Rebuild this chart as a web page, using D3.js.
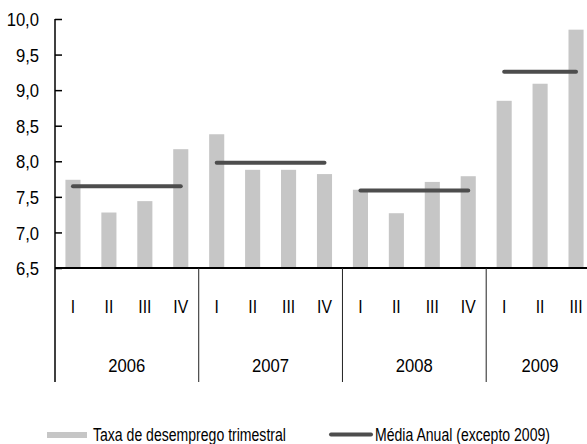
<!DOCTYPE html>
<html>
<head>
<meta charset="utf-8">
<script src="https://cdn.jsdelivr.net/npm/d3@7"></script>
<style>
  body { margin: 0; background: #fff; }
  svg { display: block; }
  text { font-family: "Liberation Sans", Arial, sans-serif; fill: #000; }
</style>
</head>
<body>
<div class="chart"></div>
<script>
//////////////
// Data
//////////////

var years = ['2006', '2007', '2008', '2009']
var quarters = ['I', 'II', 'III', 'IV']
// quarterly unemployment rate, per year
var rate2006 = [7.74, 7.28, 7.44, 8.17]
var rate2007 = [8.38, 7.88, 7.88, 7.82]
var rate2008 = [7.60, 7.27, 7.71, 7.79]
var rate2009 = [8.85, 9.09, 9.85]
// annual average line per year
var average = [7.65, 7.98, 7.59, 9.26]
var yTicks = [6.5, 7.0, 7.5, 8.0, 8.5, 9.0, 9.5, 10.0]

var legendLabels = ['Taxa de desemprego trimestral', 'Média Anual (excepto 2009)']

// flat list of quarters
var rates = [rate2006, rate2007, rate2008, rate2009]
var data = []
rates.forEach(function(r, i) {
  r.forEach(function(v, j) {
    data.push({key: years[i] + '-' + quarters[j], year: years[i], q: quarters[j], value: v})
  })
})

//////////////
// Chart
//////////////

var w = 587, h = 444
var mLeft = 55, mTop = 19, mBottom = 268
var mRight = 594   // last category is cropped by the page edge
var fs = 18.5      // font looks like a narrow arial, so squeeze horizontally

var svg = d3.select('div.chart')
  .append('svg')
  .attr('width', w)
  .attr('height', h)

var x = d3.scaleBand()
  .domain(data.map(d => d.key))
  .range([mLeft, mRight])
  .paddingInner(0.58)
  .paddingOuter(0.29)

var y = d3.scaleLinear()
  .domain([6.5, 10])
  .range([mBottom, mTop])

// squeezed text helper
function label(sel, px, py, sx, anchor, txt) {
  return sel.append('text')
    .attr('transform', 'translate(' + px + ',' + py + ') scale(' + sx + ',1)')
    .attr('text-anchor', anchor)
    .attr('font-size', fs + 'px')
    .text(txt)
}

// bars
svg.selectAll('rect.bar')
  .data(data)
  .enter()
  .append('rect')
  .attr('class', 'bar')
  .attr('x', d => x(d.key))
  .attr('width', x.bandwidth())
  .attr('y', d => y(d.value))
  .attr('height', d => y(6.5) - y(d.value))
  .attr('fill', '#c6c6c6')

// annual average lines
var avgData = years.map(function(yr, i) {
  var ds = data.filter(d => d.year === yr)
  return {
    x1: x(ds[0].key) + x.bandwidth() / 2,
    x2: x(ds[ds.length - 1].key) + x.bandwidth() / 2,
    value: average[i]
  }
})

svg.selectAll('line.avg')
  .data(avgData)
  .enter()
  .append('line')
  .attr('class', 'avg')
  .attr('x1', d => d.x1)
  .attr('x2', d => d.x2)
  .attr('y1', d => y(d.value))
  .attr('y2', d => y(d.value))
  .attr('stroke', '#4d4d4d')
  .attr('stroke-width', 4)
  .attr('stroke-linecap', 'round')

// y axis
var yAxis = d3.axisRight(y)
  .tickValues(yTicks)
  .tickSize(7)
  .tickFormat(d => d3.format('.1f')(d).replace('.', ','))

var gy = svg.append('g')
  .attr('transform', 'translate(' + mLeft + ',0)')
  .call(yAxis)
gy.select('.domain').remove()
gy.selectAll('.tick line').attr('stroke', '#000').attr('stroke-width', 1.5)
gy.selectAll('.tick text')
  .attr('x', 0)
  .attr('dy', '0.36em')
  .attr('transform', 'translate(-16,0) scale(0.9,1)')
  .attr('text-anchor', 'end')
  .attr('font-size', fs + 'px')
  .attr('font-family', null)
  .attr('fill', '#000')
gy.attr('font-family', null)
gy.append('line')
  .attr('x1', 0).attr('x2', 0)
  .attr('y1', mTop).attr('y2', 382)
  .attr('stroke', '#000')
  .attr('stroke-width', 1.5)

// x axis baseline
svg.append('line')
  .attr('x1', mLeft).attr('x2', w)
  .attr('y1', mBottom).attr('y2', mBottom)
  .attr('stroke', '#000')
  .attr('stroke-width', 2)

// quarter labels
data.forEach(function(d) {
  label(svg, x(d.key) + x.bandwidth() / 2, 313, 0.85, 'middle', d.q)
})

// year groups: separators + labels
var groups = years.map(function(yr) {
  var ds = data.filter(d => d.year === yr)
  var x0 = x(ds[0].key) - x.step() * x.paddingOuter()
  return {year: yr, x0: x0, x1: x0 + ds.length * x.step()}
})

svg.selectAll('line.sep')
  .data(groups.slice(1))
  .enter()
  .append('line')
  .attr('class', 'sep')
  .attr('x1', d => d.x0).attr('x2', d => d.x0)
  .attr('y1', mBottom).attr('y2', 382)
  .attr('stroke', '#222')
  .attr('stroke-width', 1)

groups.forEach(function(g) {
  label(svg, (g.x0 + g.x1) / 2, 372, 0.9, 'middle', g.year)
})

// legend
var lg = svg.append('g')
lg.append('rect')
  .attr('x', 47).attr('y', 432)
  .attr('width', 40).attr('height', 6)
  .attr('fill', '#c6c6c6')
label(lg, 93, 441, 0.76, 'start', legendLabels[0])
lg.append('line')
  .attr('x1', 331).attr('x2', 371)
  .attr('y1', 434.5).attr('y2', 434.5)
  .attr('stroke', '#4d4d4d')
  .attr('stroke-width', 4)
  .attr('stroke-linecap', 'round')
label(lg, 375, 441, 0.76, 'start', legendLabels[1])
</script>
</body>
</html>
